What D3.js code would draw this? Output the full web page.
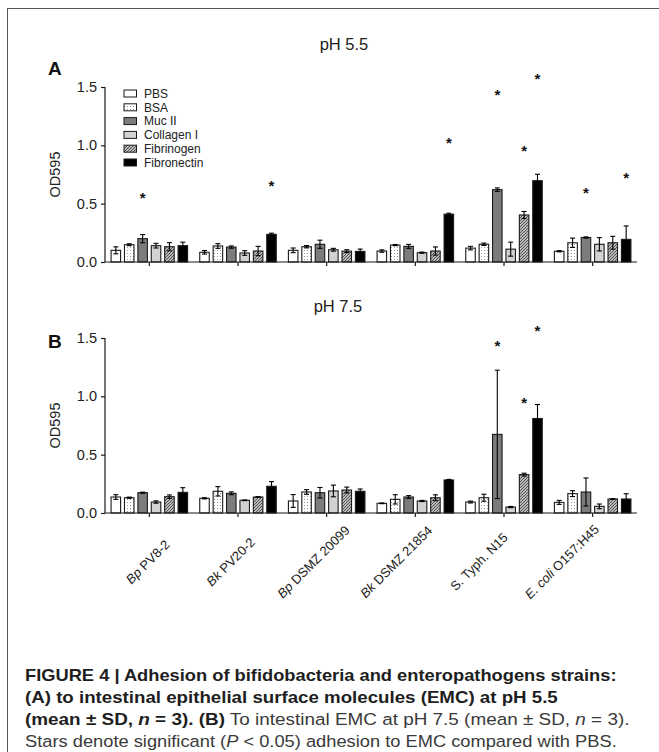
<!DOCTYPE html>
<html><head><meta charset="utf-8">
<script src="https://cdn.jsdelivr.net/npm/d3@7"></script>
<style>body{margin:0;background:#fff} svg{display:block;font-family:Arial,"Liberation Sans",sans-serif}</style>
</head><body><svg id="c" width="659" height="752"></svg>
<script>
// ---------- data ----------
const strainItalic = ["Bp", "Bk", "Bp", "Bk", "", "E. coli"];
const strainRest   = [" PV8-2", " PV20-2", " DSMZ 20099", " DSMZ 21854", "S. Typh. N15", " O157:H45"];
const series = ["PBS", "BSA", "Muc II", "Collagen I", "Fibrinogen", "Fibronectin"];
const yTicks = [0, 0.5, 1.0, 1.5];
const panelTitles = ["pH 5.5", "pH 7.5"];
const panelLetters = ["A", "B"];

// pH 5.5 (rows = series, cols = strains)
const meanA = [
  [0.100, 0.083, 0.100, 0.094, 0.119, 0.092],
  [0.148, 0.137, 0.131, 0.145, 0.152, 0.165],
  [0.200, 0.128, 0.152, 0.134, 0.620, 0.210],
  [0.140, 0.077, 0.105, 0.080, 0.110, 0.152],
  [0.131, 0.094, 0.093, 0.094, 0.403, 0.165],
  [0.140, 0.237, 0.091, 0.410, 0.697, 0.194]
];
const sdA = [
  [0.030, 0.015, 0.020, 0.010, 0.015, 0.005],
  [0.008, 0.020, 0.010, 0.005, 0.010, 0.040],
  [0.035, 0.010, 0.035, 0.017, 0.015, 0.005],
  [0.020, 0.020, 0.012, 0.005, 0.060, 0.057],
  [0.035, 0.040, 0.012, 0.035, 0.030, 0.055],
  [0.030, 0.010, 0.020, 0.008, 0.055, 0.115]
];
// pH 7.5
const meanB = [
  [0.137, 0.126, 0.103, 0.083, 0.094, 0.091],
  [0.131, 0.186, 0.180, 0.117, 0.131, 0.166],
  [0.174, 0.169, 0.174, 0.137, 0.674, 0.180],
  [0.094, 0.109, 0.189, 0.103, 0.051, 0.057],
  [0.140, 0.137, 0.197, 0.131, 0.329, 0.120],
  [0.177, 0.229, 0.186, 0.283, 0.810, 0.120]
];
const sdB = [
  [0.020, 0.005, 0.055, 0.003, 0.008, 0.017],
  [0.005, 0.040, 0.020, 0.040, 0.030, 0.025],
  [0.005, 0.012, 0.045, 0.012, 0.550, 0.120],
  [0.010, 0.003, 0.050, 0.005, 0.005, 0.020],
  [0.015, 0.003, 0.025, 0.025, 0.012, 0.003],
  [0.040, 0.040, 0.020, 0.005, 0.120, 0.045]
];
// significance stars: strain index, series index, height (OD595)
const starStrainA = [0, 1, 3, 4, 4, 4, 5, 5];
const starSeriesA = [2, 5, 5, 2, 4, 5, 2, 5];
const starValueA  = [0.574, 0.68, 1.05, 1.46, 0.983, 1.60, 0.62, 0.75];
const starStrainB = [4, 4, 4];
const starSeriesB = [2, 4, 5];
const starValueB  = [1.46, 0.974, 1.59];

// ---------- drawing ----------
const svg = d3.select("#c");
const ink = "#1a1a1a";

// frame
svg.append("rect").attr("x", 7.5).attr("y", 8.5).attr("width", 700).attr("height", 800)
  .attr("fill", "none").attr("stroke", "#555").attr("stroke-width", 1);

const defs = svg.append("defs");
const dots = defs.append("pattern").attr("id", "dots").attr("patternUnits", "userSpaceOnUse")
  .attr("width", 3).attr("height", 3);
dots.append("rect").attr("width", 3).attr("height", 3).attr("fill", "#fff");
dots.append("rect").attr("x", 1).attr("y", 1).attr("width", 1).attr("height", 1).attr("fill", "#9a9a9a");
const hatch = defs.append("pattern").attr("id", "hatch").attr("patternUnits", "userSpaceOnUse")
  .attr("width", 3).attr("height", 3);
hatch.append("rect").attr("width", 3).attr("height", 3).attr("fill", "#e6e6e6");
hatch.append("path").attr("d", "M-1,1 L1,-1 M0,3 L3,0 M2,4 L4,2")
  .attr("stroke", "#4a4a4a").attr("stroke-width", 1.1);

const fills = ["#ffffff", "url(#dots)", "#7c7c7c", "#d2d2d2", "url(#hatch)", "#000000"];

const x = d3.scaleBand().domain(d3.range(6)).range([105, 637]).padding(0);
const xi = d3.scaleBand().domain(d3.range(6)).range([-40.2, 40.2]).paddingInner(0.29).paddingOuter(0.145);

function panel(yBase, yTop, mean, sd, starStrain, starSeries, starValue, title, titleX, titleY, letter, letterY) {
  const y = d3.scaleLinear().domain([0, 1.5]).range([yBase, yTop]);
  const g = svg.append("g");

  // bars
  for (let s = 0; s < 6; s++) {
    for (let k = 0; k < 6; k++) {
      const cx = x(k) + x.bandwidth() / 2;
      const bx = cx + xi(s);
      g.append("rect")
        .attr("x", bx).attr("width", xi.bandwidth())
        .attr("y", y(mean[s][k])).attr("height", y(0) - y(mean[s][k]))
        .attr("fill", fills[s]).attr("stroke", ink).attr("stroke-width", 1.1);
    }
  }
  // error bars
  for (let s = 0; s < 6; s++) {
    for (let k = 0; k < 6; k++) {
      const cx = x(k) + x.bandwidth() / 2 + xi(s) + xi.bandwidth() / 2;
      const hi = y(mean[s][k] + sd[s][k]);
      const lo = y(Math.max(0, mean[s][k] - sd[s][k]));
      const col = "#000";
      g.append("line").attr("x1", cx).attr("x2", cx).attr("y1", hi).attr("y2", lo)
        .attr("stroke", col).attr("stroke-width", 1.1);
      [hi, lo].forEach(v => g.append("line").attr("x1", cx - 2.5).attr("x2", cx + 2.5)
        .attr("y1", v).attr("y2", v).attr("stroke", col).attr("stroke-width", 1.1));
    }
  }
  // stars
  for (let i = 0; i < starStrain.length; i++) {
    const cx = x(starStrain[i]) + x.bandwidth() / 2 + xi(starSeries[i]) + xi.bandwidth() / 2;
    g.append("text").attr("x", cx).attr("y", y(starValue[i]) + 8.2)
      .attr("text-anchor", "middle").attr("font-size", 15).attr("font-weight", "bold")
      .attr("fill", "#111").text("*");
  }

  // y axis
  const ya = g.append("g").attr("transform", "translate(105,0)")
    .call(d3.axisLeft(y).tickValues(yTicks).tickFormat(d3.format(".1f")).tickSize(4).tickPadding(4));
  ya.select(".domain").attr("stroke", ink).attr("stroke-width", 1.2).attr("d", `M0,${yTop}V${yBase}`);
  ya.selectAll(".tick line").attr("stroke", ink).attr("stroke-width", 1.2);
  ya.selectAll(".tick text").attr("font-size", 14.5).attr("fill", "#222").attr("font-family", "Arial, 'Liberation Sans', sans-serif");

  // x axis
  const xa = g.append("g").attr("transform", `translate(0,${yBase})`)
    .call(d3.axisBottom(x).tickSize(4).tickFormat(""));
  xa.select(".domain").attr("stroke", ink).attr("stroke-width", 1.2).attr("d", "M105,0H637");
  xa.selectAll(".tick line").attr("stroke", ink).attr("stroke-width", 1.2);

  // y label
  g.append("text").attr("transform", `translate(60,${(yBase + yTop) / 2}) rotate(-90)`)
    .attr("text-anchor", "middle").attr("font-size", 14.5).attr("fill", "#222").text("OD595");

  // title
  g.append("text").attr("x", titleX).attr("y", titleY).attr("text-anchor", "middle")
    .attr("font-size", 16.5).attr("fill", "#222").text(title);
  g.append("text").attr("x", 48).attr("y", letterY).attr("font-size", 19).attr("font-weight", "bold")
    .attr("fill", "#111").text(letter);
  return y;
}

panel(262, 87, meanA, sdA, starStrainA, starSeriesA, starValueA, panelTitles[0], 344, 50, panelLetters[0], 75);
panel(513, 338, meanB, sdB, starStrainB, starSeriesB, starValueB, panelTitles[1], 338, 312, panelLetters[1], 348);

// legend
const leg = svg.append("g");
series.forEach((name, i) => {
  const ly = 90 + i * 13.8;
  leg.append("rect").attr("x", 124).attr("y", ly).attr("width", 12.5).attr("height", 7)
    .attr("fill", fills[i]).attr("stroke", ink).attr("stroke-width", 1);
  leg.append("text").attr("x", 144).attr("y", ly + 7.8).attr("font-size", 12).attr("fill", "#222").text(name);
});

// x labels (panel B only)
const labelPos = d3.scalePoint().domain(d3.range(6)).range([151, 565]);
strainRest.forEach((rest, k) => {
  const t = svg.append("text").attr("transform", `translate(${labelPos(k)},565) rotate(-45)`)
    .attr("text-anchor", "middle").attr("font-size", 13).attr("fill", "#222");
  if (strainItalic[k]) t.append("tspan").attr("font-style", "italic").text(strainItalic[k]);
  t.append("tspan").text(rest);
});

// caption
const capLines = [
  [[ "FIGURE 4 | Adhesion of bifidobacteria and enteropathogens strains:", "b"]],
  [[ "(A) to intestinal epithelial surface molecules (EMC) at pH 5.5", "b"]],
  [[ "(mean \u00B1 SD, ", "b"], ["n", "bi"], [" = 3). (B)", "b"], [" To intestinal EMC at pH 7.5 (mean \u00B1 SD, ", "r"], ["n", "i"], [" = 3).", "r"]],
  [[ "Stars denote significant (", "r"], ["P", "i"], [" < 0.05) adhesion to EMC compared with PBS.", "r"]]
];
const capBase = [681, 703, 725, 747];
const capWidth = [592, 533, 605, 592];
capLines.forEach((parts, i) => {
  const t = svg.append("text").attr("x", 0).attr("y", 0).attr("font-size", 16.5);
  parts.forEach(([txt, st]) => {
    t.append("tspan").text(txt)
      .attr("font-weight", st.includes("b") ? "bold" : "normal")
      .attr("font-style", st.includes("i") ? "italic" : "normal")
      .attr("fill", st.includes("b") ? "#1e1e1e" : "#3a3a3a");
  });
  const w = t.node().getComputedTextLength();
  t.attr("transform", `translate(25,${capBase[i]}) scale(${capWidth[i] / w},1)`);
});
</script>
</body></html>
